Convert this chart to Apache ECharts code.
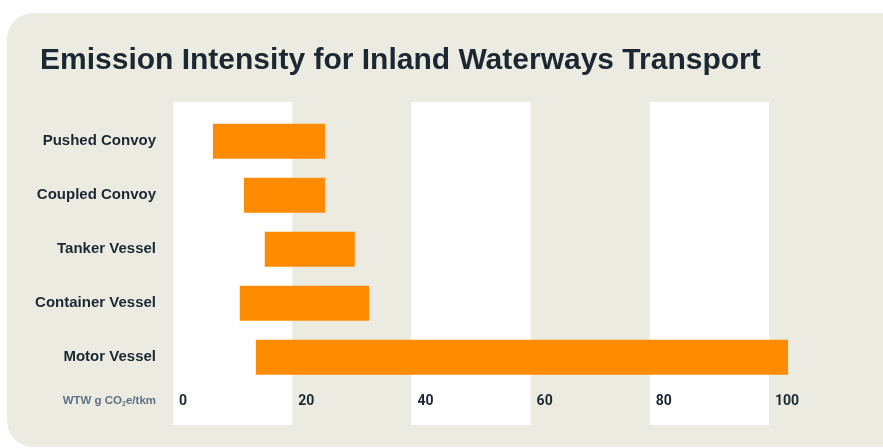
<!DOCTYPE html>
<html>
<head>
<meta charset="utf-8">
<script src="https://cdn.jsdelivr.net/npm/echarts@6/dist/echarts.min.js"></script>
<style>
  html, body { margin: 0; padding: 0; background: #ffffff; }
  #wrap { position: relative; width: 883px; height: 448px; overflow: hidden; }
  #card { position: absolute; left: 7px; top: 13px; width: 920px; height: 434px; border-radius: 26px; background: #ECEBE1; }
  #chart { position: absolute; left: 0; top: 0; width: 883px; height: 448px; }
</style>
</head>
<body>
<div id="wrap">
  <div id="card"></div>
  <div id="chart"></div>
</div>
<script>
const titleText = 'Emission Intensity for Inland Waterways Transport';
const categories = ['Pushed Convoy', 'Coupled Convoy', 'Tanker Vessel', 'Container Vessel', 'Motor Vessel'];
const rangeStart = [6.7, 11.9, 15.4, 11.2, 13.9];
const rangeEnd = [25.5, 25.5, 30.5, 32.9, 103.2];
const tickLabels = [0, 20, 40, 60, 80, 100];
const xMin = 0, xMax = 110, xStep = 20;

const textDark = '#1B2832';
const barColor = '#FF8C00';

const chart = echarts.init(document.getElementById('chart'), null, { renderer: 'canvas' });
const gridLeft = 173, gridWidth = 655.6;

chart.setOption({
  backgroundColor: 'transparent',
  animation: false,
  title: [
    {
      text: titleText, left: 40, top: 46, padding: 0,
      textStyle: { fontFamily: 'Liberation Sans', fontWeight: 'bold', fontSize: 30, color: textDark }
    },
    {
      text: '{a|WTW g CO}{b|2}{a|e/tkm}', right: 727, top: 393, padding: 0,
      textStyle: {
        rich: {
          a: { fontFamily: 'Liberation Sans', fontWeight: 'bold', fontSize: 11.5, color: '#5E7082', verticalAlign: 'middle' },
          b: { fontFamily: 'Liberation Sans', fontWeight: 'bold', fontSize: 7, color: '#5E7082', padding: [8, 0, 0, 0] }
        }
      }
    }
  ],
  grid: [
    { left: gridLeft, width: gridWidth, top: 102, height: 323, containLabel: false },
    { left: gridLeft, width: gridWidth, top: 114.3, height: 270, containLabel: false }
  ],
  xAxis: [
    {
      gridIndex: 0, type: 'value', min: xMin, max: xMax, interval: xStep,
      axisLine: { show: false }, axisTick: { show: false }, axisLabel: { show: false },
      splitLine: { show: false },
      splitArea: { show: true, areaStyle: { color: ['#ffffff', 'rgba(0,0,0,0)'] } }
    },
    {
      gridIndex: 1, type: 'value', min: xMin, max: xMax, interval: xStep,
      axisLine: { show: false }, axisTick: { show: false }, splitLine: { show: false },
      axisLabel: {
        show: true, margin: 10, align: 'left', padding: [0, 0, 0, 6],
        fontFamily: 'Roboto', fontWeight: 'bold', fontSize: 14, color: textDark,
        formatter: v => tickLabels.indexOf(v) >= 0 ? String(v) : ''
      }
    }
  ],
  yAxis: [
    { gridIndex: 0, type: 'value', show: false, min: 0, max: 1 },
    {
      gridIndex: 1, type: 'category', data: categories, inverse: true,
      axisLine: { show: false }, axisTick: { show: false }, splitLine: { show: false },
      axisLabel: { margin: 17, fontFamily: 'Liberation Sans', fontWeight: 'bold', fontSize: 15, color: textDark }
    }
  ],
  series: [
    {
      type: 'bar', xAxisIndex: 1, yAxisIndex: 1, stack: 'range', barWidth: 35,
      itemStyle: { color: 'rgba(0,0,0,0)' }, silent: true,
      data: rangeStart
    },
    {
      type: 'bar', xAxisIndex: 1, yAxisIndex: 1, stack: 'range', barWidth: 35,
      itemStyle: { color: barColor },
      data: rangeEnd.map((e, i) => +(e - rangeStart[i]).toFixed(2))
    }
  ]
});
</script>
</body>
</html>
